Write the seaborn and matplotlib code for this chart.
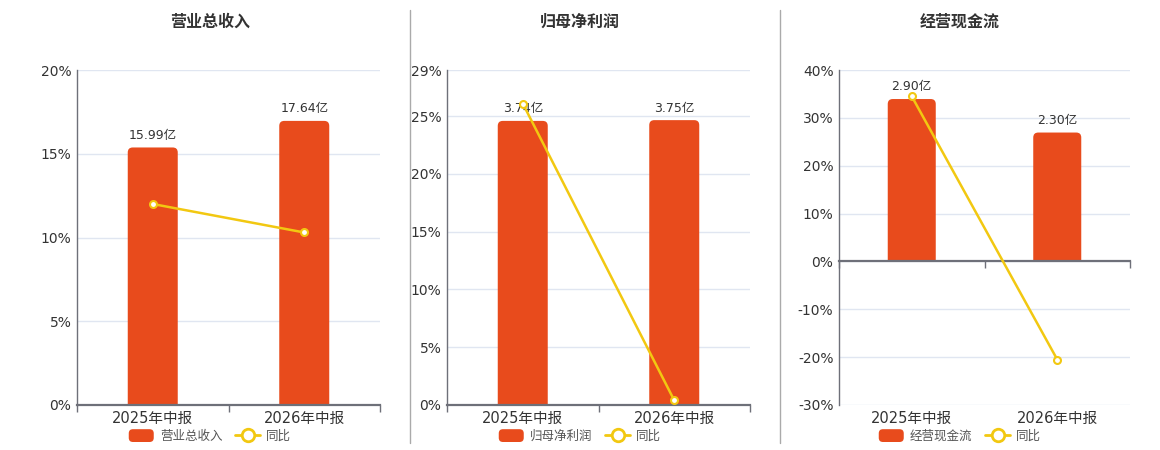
import matplotlib
matplotlib.use('Agg')
import matplotlib.pyplot as plt
import seaborn as sns
import pandas as pd
from matplotlib.patches import FancyBboxPatch, Patch, Rectangle
from matplotlib.lines import Line2D
from matplotlib.ticker import FuncFormatter
from matplotlib.legend_handler import HandlerPatch

# dados
categorias = ['2025年中报', '2026年中报']
titulos = ['营业总收入', '归母净利润', '经营现金流']
receita = [15.99, 17.64]
receita_yoy = [12.0, 10.3]
lucro = [3.74, 3.75]
lucro_yoy = [26.1, 0.4]
caixa = [2.90, 2.30]
caixa_yoy = [34.5, -20.5]

valores = [receita, lucro, caixa]
yoys = [receita_yoy, lucro_yoy, caixa_yoy]

# escalas dos eixos
pct_ticks = [[0, 5, 10, 15, 20], [0, 5, 10, 15, 20, 25, 29], [-30, -20, -10, 0, 10, 20, 30, 40]]
bar_lims = [(0, 20.8), (0, 4.41), (-2.58, 3.42)]

COR_BARRA = '#E84B1C'
COR_LINHA = '#F2C811'
COR_EIXO = '#6E7079'
COR_GRADE = '#E0E6F1'
COR_TEXTO = '#333333'


class HandlerRedondo(HandlerPatch):
    # retangulo arredondado na legenda
    def create_artists(self, legend, orig_handle, xdescent, ydescent, width, height, fontsize, trans):
        p = FancyBboxPatch((-xdescent, -ydescent), width, height,
                           boxstyle='round,pad=0,rounding_size=3',
                           facecolor=orig_handle.get_facecolor(), edgecolor='none', transform=trans)
        return [p]


sns.set_theme(style='white')
plt.rcParams['font.family'] = ['DejaVu Sans', 'Noto Sans CJK SC']

W, H = 1160, 450
fig = plt.figure(figsize=(W / 100, H / 100), dpi=100)

ax_px = [(77, 380), (447, 750), (839, 1130)]   # esquerda/direita de cada painel em pixels
centros = [210, 580, 960]                       # centro do titulo e da legenda
top_px, bot_px = 70, 405

for i in range(3):
    l, r = ax_px[i]
    ax = fig.add_axes([l / W, 1 - bot_px / H, (r - l) / W, (bot_px - top_px) / H])
    ax_bar = ax.twinx()
    ax_line = ax.twinx()

    # eixo de percentuais (grade + rotulos)
    ax.set_ylim(pct_ticks[i][0], pct_ticks[i][-1])
    ax.set_yticks(pct_ticks[i])
    ax.yaxis.set_major_formatter(FuncFormatter(lambda v, p: f'{v:.0f}%'))
    ax.grid(True, axis='y', color=COR_GRADE, linewidth=1)
    ax.tick_params(axis='y', length=0, labelsize=10, labelcolor=COR_TEXTO, pad=4)
    for s in ['top', 'right', 'bottom']:
        ax.spines[s].set_visible(False)
    ax.spines['left'].set_color(COR_EIXO)
    ax.spines['left'].set_linewidth(1)

    # barras
    df = pd.DataFrame({'cat': categorias, 'valor': valores[i]})
    sns.barplot(data=df, x='cat', y='valor', ax=ax_bar, color=COR_BARRA, width=0.33, saturation=1)
    ax_bar.set_ylim(*bar_lims[i])
    ax_bar.set_xlim(-0.5, 1.5)
    ax_bar.set_ylabel('')
    ax_bar.set_xlabel('')
    ax_bar.yaxis.set_visible(False)
    ax_bar.xaxis.set_visible(True)
    for s in ['top', 'right', 'left']:
        ax_bar.spines[s].set_visible(False)
    ax_bar.spines['bottom'].set_position(('data', 0))
    ax_bar.spines['bottom'].set_color(COR_EIXO)
    ax_bar.spines['bottom'].set_linewidth(1.6)
    ax_bar.bar_label(ax_bar.containers[0], labels=[f'{v:.2f}亿' for v in valores[i]],
                     padding=4, fontsize=9, color=COR_TEXTO)

    # eixo x: rotulos no ax, marcas na linha do zero
    ax.set_xticks([0, 1], categorias)
    ax.set_xticks([-0.5, 0.5, 1.5], minor=True)
    ax.tick_params(axis='x', which='major', length=0, labelsize=10.5, labelcolor=COR_TEXTO, pad=4)
    ax.tick_params(axis='x', which='minor', length=0)
    ax_bar.tick_params(axis='x', which='major', length=0, labelbottom=False)
    ax_bar.tick_params(axis='x', which='minor', length=5, color=COR_EIXO, width=1, labelbottom=False, bottom=True)

    # cantos arredondados nas barras: a barra original vira uma caixa arredondada
    # que desce um pouco abaixo da base e e cortada na base
    xpp = 2 / (r - l)
    ypp = (bar_lims[i][1] - bar_lims[i][0]) / (bot_px - top_px)
    raio = 5
    for p in list(ax_bar.patches):
        x0, y0, w, h = p.get_x(), p.get_y(), p.get_width(), p.get_height()
        extra = raio * ypp * 2
        arred = FancyBboxPatch((x0, y0 - extra), w, h + extra,
                               boxstyle=f'round,pad=0,rounding_size={raio * xpp}',
                               mutation_aspect=ypp / xpp, facecolor=COR_BARRA, edgecolor='none',
                               zorder=p.get_zorder())
        ax_bar.add_patch(arred)
        corte = Rectangle((x0 - w, y0), 3 * w, h * 2, transform=ax_bar.transData)
        arred.set_clip_path(corte)
        p.set_visible(False)

    # linha do yoy
    sns.lineplot(x=[0, 1], y=yoys[i], ax=ax_line, color=COR_LINHA, linewidth=1.8,
                 marker='o', markersize=5, markerfacecolor='white', markeredgecolor=COR_LINHA,
                 markeredgewidth=1.5)
    ax_line.set_ylim(pct_ticks[i][0], pct_ticks[i][-1])
    ax_line.set_xlim(-0.5, 1.5)
    ax_line.yaxis.set_visible(False)
    for s in ax_line.spines.values():
        s.set_visible(False)

    ax.set_xlim(-0.5, 1.5)

    # titulo
    fig.text(centros[i] / W, 1 - 22 / H, titulos[i], ha='center', va='center',
             fontsize=11.5, fontweight='bold', color=COR_TEXTO)

    # legenda
    handles = [Patch(facecolor=COR_BARRA, edgecolor='none'),
               Line2D([], [], color=COR_LINHA, linewidth=2, marker='o', markersize=9,
                      markerfacecolor='white', markeredgecolor=COR_LINHA, markeredgewidth=2)]
    fig.legend(handles, [titulos[i], '同比'], loc='center', bbox_to_anchor=(centros[i] / W, 1 - 436 / H),
               ncol=2, frameon=False, fontsize=9, handlelength=2.0, handleheight=1.2,
               columnspacing=1.0, handletextpad=0.5, labelcolor='#555555',
               handler_map={Patch: HandlerRedondo()})

# linhas separadoras
for xs in [410, 780]:
    fig.add_artist(Line2D([xs / W, xs / W], [1 - 10 / H, 1 - 443 / H], color='#AAAAAA', linewidth=1))

fig.savefig('out.png', dpi=100)
